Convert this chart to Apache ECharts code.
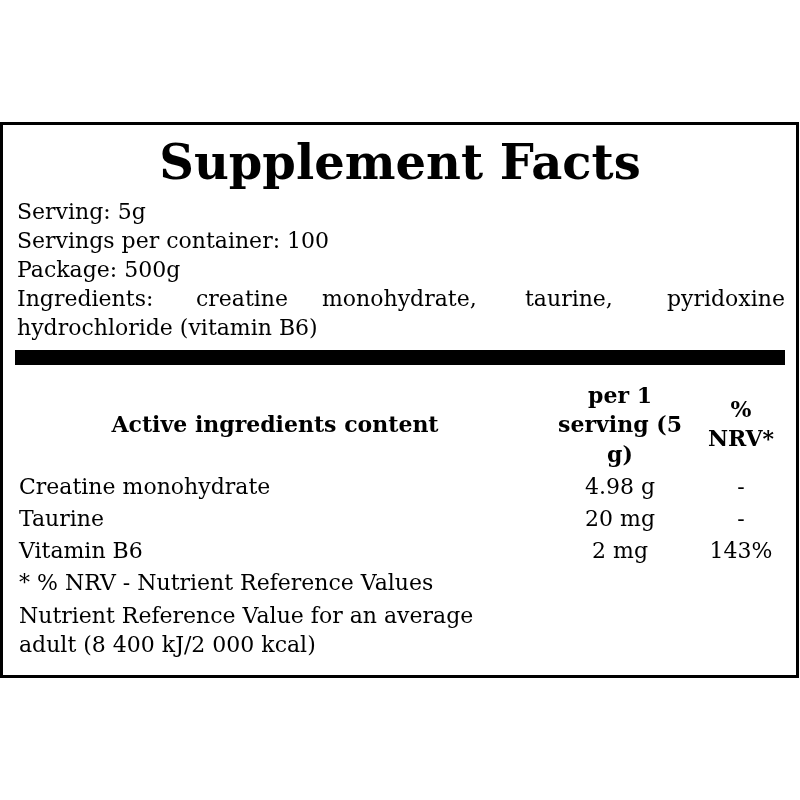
<!DOCTYPE html>
<html><head><meta charset="utf-8">
<script src="https://cdn.jsdelivr.net/npm/echarts@6/dist/echarts.min.js"></script>
<style>html,body{margin:0;padding:0;background:#fff}#c{width:800px;height:800px}</style>
</head><body><div id="c"></div>
<script>
const title = 'Supplement Facts';
const infoLines = ['Serving: 5g', 'Servings per container: 100', 'Package: 500g'];
const ingredientWords = ['Ingredients:', 'creatine', 'monohydrate,', 'taurine,', 'pyridoxine'];
const ingredientLine2 = 'hydrochloride (vitamin B6)';
const headerName = 'Active ingredients content';
const headerAmount = ['per 1', 'serving (5', 'g)'];
const headerNrv = ['%', 'NRV*'];
const names = ['Creatine monohydrate', 'Taurine', 'Vitamin B6'];
const amounts = ['4.98 g', '20 mg', '2 mg'];
const nrv = ['-', '-', '143%'];
const footnotes = ['* % NRV - Nutrient Reference Values', 'Nutrient Reference Value for an average', 'adult (8 400 kJ/2 000 kcal)'];

const F = 'DejaVu Serif';
const chart = echarts.init(document.getElementById('c'));
const els = [];
function t(x, y, text, opt) {
  opt = opt || {};
  els.push({type: 'text', x: x, y: y, style: {text: text, fill: '#000',
    font: (opt.bold ? 'bold ' : '') + (opt.size || 22) + 'px "' + F + '"',
    align: opt.align || 'left', verticalAlign: 'middle'}});
}
els.push({type: 'rect', shape: {x: 1.5, y: 123.5, width: 796, height: 553}, style: {fill: 'none', stroke: '#000', lineWidth: 3}});
els.push({type: 'rect', shape: {x: 15, y: 350, width: 770, height: 15}, style: {fill: '#000'}});
t(400, 167, title, {bold: true, size: 48, align: 'center'});
infoLines.forEach((s, i) => t(17, 213 + i * 29, s));
const wx = [17, 196, 322, 525, 785];
ingredientWords.forEach((w, i) => t(wx[i], 300, w, {align: i === 4 ? 'right' : 'left'}));
t(17, 329, ingredientLine2);
t(275, 426, headerName, {bold: true, align: 'center'});
headerAmount.forEach((s, i) => t(620, 397 + i * 29.5, s, {bold: true, align: 'center'}));
headerNrv.forEach((s, i) => t(741, 411 + i * 29, s, {bold: true, align: 'center'}));
names.forEach((s, i) => {
  const y = 488 + i * 32;
  t(19, y, s);
  t(620, y, amounts[i], {align: 'center'});
  t(741, y, nrv[i], {align: 'center'});
});
t(19, 584, footnotes[0]);
t(19, 617, footnotes[1]);
t(19, 646, footnotes[2]);
chart.setOption({animation: false, graphic: {elements: els}});
</script></body></html>
